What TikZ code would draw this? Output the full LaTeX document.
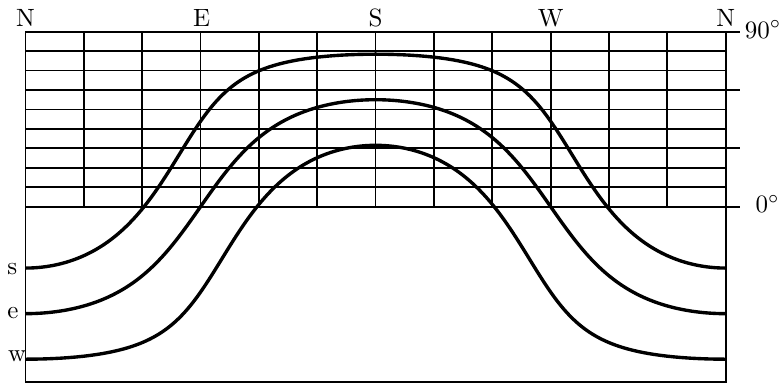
\documentclass[tikz,border=0pt]{standalone}
\begin{document}
\begin{tikzpicture}[x=0.778pt,y=0.778pt,
  gridline/.style={line width=0.7pt},
  suncurve/.style={line width=1.35pt, line join=round},
  lbl/.style={inner sep=0pt, anchor=base},
  declare function={
    sunalt(\p,\q)=asin(sin(35)*sin(\q)+cos(35)*cos(\q)*cos(\p));
    sunaz(\p,\q)=180-atan2(-cos(\q)*sin(\p), -(cos(35)*sin(\q)-sin(35)*cos(\q)*cos(\p)));
  }]
\useasboundingbox (-13.11,-91.67) rectangle (389.46,106.27);
% altitude grid above the horizon
\foreach \a in {0,10,...,90} \draw[gridline] (0,\a) -- (360,\a);
\foreach \az in {30,60,...,330} \draw[gridline] (\az,0) -- (\az,90);
% frame
\draw[gridline] (0,90) -- (0,-90) -- (360,-90) -- (360,90);
% ticks on the right
\foreach \a in {0,30,60,90} \draw[gridline] (360,\a) -- (367.4,\a);
% sun paths
\foreach \dec in {23.44,0,-23.44} {
  \pgfmathsetmacro\midn{\dec+35-90}
  \draw[suncurve] (0,\midn) -- plot[domain=-179.9:179.9,samples=361,variable=\t]
     ({sunaz(\t,\dec)},{sunalt(\t,\dec)}) -- (360,\midn);
}
% labels
\node[lbl] (nL) at (0,92.4) {N};
\node[lbl] (nE) at (90.5,92.4) {E};
\node[lbl] (nS) at (180,92.4) {S};
\node[lbl] (nW) at (270,92.4) {W};
\node[lbl] (nR) at (360,92.4) {N};
\node[lbl, anchor=base east] (t90) at (388.9,86.7) {$90^\circ$};
\node[lbl, anchor=base east] (t0) at (388,-3.2) {$0^\circ$};
\node[lbl, anchor=base west] (ls) at (-9.6,-35.1) {s};
\node[lbl, anchor=base west] (le) at (-9.6,-57.3) {e};
\node[lbl, anchor=base west] (lw) at (-9.2,-79.8) {w};
\end{tikzpicture}
\end{document}
